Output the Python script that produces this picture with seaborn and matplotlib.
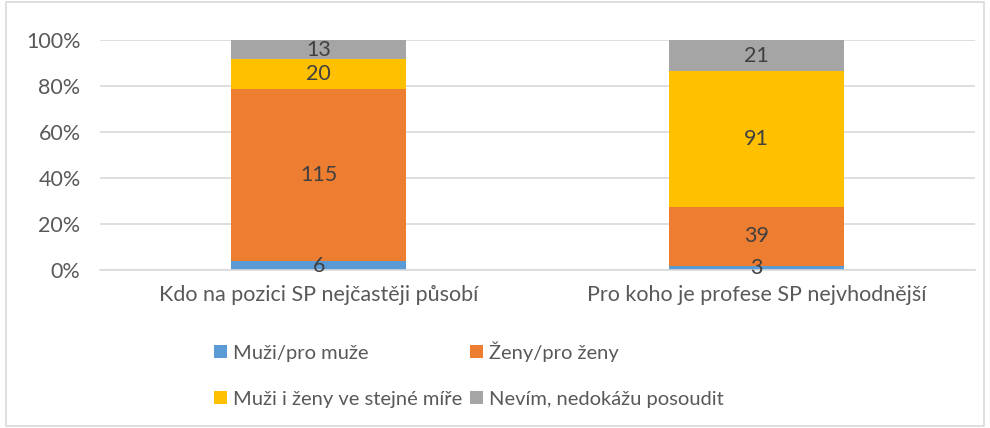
import numpy as np
import pandas as pd
import matplotlib
matplotlib.use("Agg")
import matplotlib.pyplot as plt
import seaborn as sns
from matplotlib.patches import Patch, Rectangle

# data
categories = ["Kdo na pozici SP nejčastěji působí", "Pro koho je profese SP nejvhodnější"]
series = ["Muži/pro muže", "Ženy/pro ženy", "Muži i ženy ve stejné míře", "Nevím, nedokážu posoudit"]
muzi = [6, 3]
zeny = [115, 39]
oboje = [20, 91]
nevim = [13, 21]
colors = ["#5B9BD5", "#ED7D31", "#FFC000", "#A5A5A5"]

sns.set_theme(style="white")
plt.rcParams["font.family"] = ["Lato", "DejaVu Sans"]
text_col = "#595959"
fs = 15.5

df = pd.DataFrame({"kat": categories, series[0]: muzi, series[1]: zeny,
                   series[2]: oboje, series[3]: nevim})
vals = df[series].to_numpy(dtype=float)
pct = vals / vals.sum(axis=1, keepdims=True) * 100
cum = pct.cumsum(axis=1)

fig = plt.figure(figsize=(9.9, 4.28), dpi=100)
ax = fig.add_axes([0.101, 0.369, 0.884, 0.538])

# stacked bars: draw cumulative layers from top to bottom
for i in range(len(series) - 1, -1, -1):
    layer = pd.DataFrame({"kat": categories, "v": cum[:, i]})
    sns.barplot(data=layer, x="kat", y="v", color=colors[i], width=0.4,
                saturation=1, ax=ax, zorder=2, linewidth=0)

# value labels
for j in range(len(categories)):
    for i in range(len(series)):
        bottom = cum[j, i] - pct[j, i]
        ax.text(j, bottom + pct[j, i] / 2, f"{int(vals[j, i])}", ha="center",
                va="center", fontsize=fs, color="#404040", zorder=3)

ax.set_ylim(0, 100)
ax.set_xlim(-0.5, 1.5)
ax.set_yticks(np.arange(0, 101, 20))
ax.set_yticklabels([f"{t}%" for t in range(0, 101, 20)])
ax.yaxis.grid(True, color="#D9D9D9", linewidth=1.2, zorder=0)
ax.set_axisbelow(True)
for s in ax.spines.values():
    s.set_visible(False)
ax.spines["bottom"].set_visible(True)
ax.spines["bottom"].set_color("#D9D9D9")
ax.spines["bottom"].set_linewidth(1.2)
ax.tick_params(axis="both", length=0, labelsize=fs, colors=text_col)
ax.tick_params(axis="y", pad=14)
ax.tick_params(axis="x", pad=11)
ax.set_xlabel("")
ax.set_ylabel("")

# legend rows: (Muži, Ženy), (Muži i ženy, Nevím) -> column-wise order
order = [0, 2, 1, 3]
handles = [Patch(facecolor=colors[k], edgecolor="none") for k in order]
labels = [series[k] for k in order]
fig.legend(handles, labels, loc="upper left", bbox_to_anchor=(0.216, 0.203),
           ncol=2, frameon=False, fontsize=14.5, labelcolor=text_col,
           borderpad=0, borderaxespad=0,
           handlelength=0.65, handleheight=0.65, handletextpad=0.3,
           columnspacing=0.4, labelspacing=1.45)

# outer frame
fig.patches.append(Rectangle((0.006, 0.005), 0.988, 0.99, transform=fig.transFigure,
                             fill=False, edgecolor="#D9D9D9", linewidth=1.2))

fig.savefig("out.png", dpi=100)
